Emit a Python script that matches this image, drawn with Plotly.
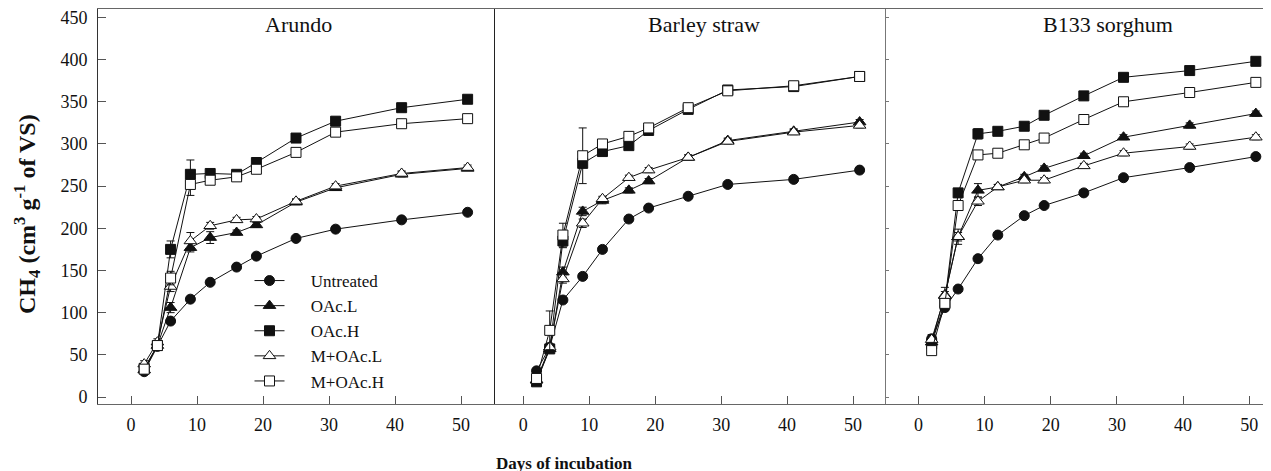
import plotly.graph_objects as go

# ---------------- data ----------------
days = [2, 4, 6, 9, 12, 16, 19, 25, 31, 41, 51]
series_names = ["Untreated", "OAc.L", "OAc.H", "M+OAc.L", "M+OAc.H"]
panel_titles = ["Arundo", "Barley straw", "B133 sorghum"]
x_ticks = [0, 10, 20, 30, 40, 50]
y_ticks = [0, 50, 100, 150, 200, 250, 300, 350, 400, 450]

arundo_untreated = [30, 60, 90, 116, 136, 154, 167, 188, 199, 210, 219]
arundo_oacl = [32, 61, 106, 177, 189, 195, 204, 231, 248, 264, 271]
arundo_oach = [34, 61, 175, 264, 265, 264, 278, 307, 327, 343, 353]
arundo_moacl = [39, 65, 131, 185, 203, 210, 211, 232, 250, 265, 272]
arundo_moach = [33, 61, 141, 252, 257, 261, 270, 290, 314, 324, 330]

barley_untreated = [31, 59, 115, 143, 175, 211, 224, 238, 252, 258, 269]
barley_oacl = [20, 57, 148, 220, 233, 245, 256, 284, 304, 315, 326]
barley_oach = [18, 57, 185, 277, 291, 298, 316, 341, 364, 368, 380]
barley_moacl = [20, 59, 140, 206, 235, 260, 269, 284, 303, 314, 322]
barley_moach = [22, 79, 192, 286, 300, 309, 319, 343, 363, 369, 380]

sorghum_untreated = [69, 106, 128, 164, 192, 215, 227, 242, 260, 272, 285]
sorghum_oacl = [65, 121, 190, 245, 249, 261, 271, 286, 308, 322, 336]
sorghum_oach = [63, 113, 242, 312, 315, 321, 334, 357, 379, 387, 398]
sorghum_moacl = [68, 120, 190, 232, 249, 257, 257, 274, 289, 297, 308]
sorghum_moach = [55, 111, 227, 287, 289, 299, 307, 329, 350, 361, 373]

# standard deviations (error bars)
arundo_err_untreated = [2, 2, 3, 2, 2, 2, 2, 2, 2, 2, 2]
arundo_err_oacl = [3, 3, 6, 5, 7, 3, 3, 3, 3, 3, 2]
arundo_err_oach = [3, 3, 10, 17, 4, 3, 3, 3, 3, 3, 3]
arundo_err_moacl = [4, 4, 6, 10, 4, 3, 3, 3, 3, 3, 3]
arundo_err_moach = [3, 3, 8, 13, 4, 3, 3, 3, 3, 3, 3]

barley_err_untreated = [3, 3, 3, 3, 3, 3, 3, 3, 3, 3, 3]
barley_err_oacl = [3, 3, 6, 5, 4, 3, 3, 3, 3, 3, 3]
barley_err_oach = [3, 3, 8, 5, 4, 3, 3, 3, 3, 3, 3]
barley_err_moacl = [3, 3, 5, 5, 3, 3, 3, 3, 3, 3, 3]
barley_err_moach = [3, 23, 14, 33, 4, 3, 3, 3, 3, 3, 3]

sorghum_err_untreated = [3, 3, 3, 3, 3, 3, 3, 3, 3, 3, 3]
sorghum_err_oacl = [9, 9, 9, 8, 3, 3, 3, 3, 3, 3, 3]
sorghum_err_oach = [5, 5, 5, 6, 3, 3, 3, 3, 3, 3, 3]
sorghum_err_moacl = [4, 5, 5, 5, 3, 3, 3, 3, 3, 3, 3]
sorghum_err_moach = [4, 5, 5, 5, 3, 3, 3, 3, 3, 3, 3]

panels = [
    ([arundo_untreated, arundo_oacl, arundo_oach, arundo_moacl, arundo_moach],
     [arundo_err_untreated, arundo_err_oacl, arundo_err_oach, arundo_err_moacl, arundo_err_moach]),
    ([barley_untreated, barley_oacl, barley_oach, barley_moacl, barley_moach],
     [barley_err_untreated, barley_err_oacl, barley_err_oach, barley_err_moacl, barley_err_moach]),
    ([sorghum_untreated, sorghum_oacl, sorghum_oach, sorghum_moacl, sorghum_moach],
     [sorghum_err_untreated, sorghum_err_oacl, sorghum_err_oach, sorghum_err_moacl, sorghum_err_moach]),
]

# ---------------- styling ----------------
W, H = 1271, 471
OFF = 8  # page body margin: screen px = figure px + OFF


def fx(px):
    return (px - OFF) / W


def fy(py):
    return 1 - (py - OFF) / H


FONT = "Liberation Serif"
INK = "#111111"
marker_styles = [
    dict(symbol="circle", size=10, color=INK),
    dict(symbol="triangle-up", size=11, color=INK),
    dict(symbol="square", size=10, color=INK),
    dict(symbol="triangle-up", size=11, color="white"),
    dict(symbol="square", size=10, color="white"),
]
legend_pad = "\u00a0" * 5

fig = go.Figure()
suffixes = ["", "2", "3"]
for p, (series, errs) in enumerate(panels):
    sfx = suffixes[p]
    for i, name in enumerate(series_names):
        ms = marker_styles[i]
        fig.add_trace(go.Scatter(
            x=days, y=series[i],
            mode="lines+markers",
            name=legend_pad + name,
            showlegend=(p == 0),
            xaxis="x" + sfx, yaxis="y" + sfx,
            line=dict(color=INK, width=1),
            marker=dict(symbol=ms["symbol"], size=ms["size"], color=ms["color"],
                        line=dict(color=INK, width=1)),
            error_y=dict(type="data", array=errs[i], visible=True,
                         color=INK, thickness=1, width=4),
        ))

x_domains = [[fx(98), fx(495)], [fx(495), fx(886)], [fx(886), 1.0]]
x_ranges = [[-5.0, 55.15], [-4.3, 55.0], [-4.9, 54.5]]
y_domain = [fy(404), fy(9)]
y_range = [-8.3, 460]
divider_colors = ["#333333", "#222222", "#777777"]

layout = dict(
    width=W, height=H,
    margin=dict(l=0, r=0, t=0, b=0),
    paper_bgcolor="white", plot_bgcolor="white",
    template="none",
    font=dict(family=FONT, size=18, color=INK),
    showlegend=True,
    legend=dict(x=fx(249.5), y=fy(263), xanchor="left", yanchor="top",
                bgcolor="rgba(0,0,0,0)", borderwidth=0,
                font=dict(family=FONT, size=17, color=INK),
                itemwidth=30, tracegroupgap=0),
)

for p, sfx in enumerate(suffixes):
    layout["xaxis" + sfx] = dict(
        domain=x_domains[p], range=x_ranges[p], anchor="y" + sfx,
        tickvals=x_ticks, ticks="inside", ticklen=8, tickcolor="#555555",
        ticklabelstandoff=4, ticklabeloverflow="allow",
        showline=True, linecolor="#666666", linewidth=1, mirror=True,
        showgrid=False, zeroline=False,
        tickfont=dict(family=FONT, size=18, color=INK),
    )
    ydict = dict(
        domain=y_domain, range=y_range, anchor="x" + sfx,
        showline=True, linecolor=divider_colors[p], linewidth=1,
        showgrid=False, zeroline=False, tickvals=y_ticks,
    )
    if p == 0:
        ydict.update(ticks="inside", ticklen=8, tickcolor="#555555",
                     ticklabelstandoff=6, ticklabeloverflow="allow",
                     tickfont=dict(family=FONT, size=18, color=INK))
    elif p == 1:
        ydict.update(ticks="", showticklabels=False)
    else:
        ydict.update(ticks="inside", ticklen=3, tickcolor="#777777",
                     showticklabels=False)
    layout["yaxis" + sfx] = ydict

title_x = [25.4, 27.4, 28.6]
annotations = []
for p, sfx in enumerate(suffixes):
    annotations.append(dict(
        text=panel_titles[p], x=title_x[p], y=442,
        xref="x" + sfx, yref="y" + sfx, showarrow=False,
        xanchor="center", yanchor="middle",
        font=dict(family=FONT, size=22, color=INK),
    ))

annotations.append(dict(
    text="<b>CH<sub>4</sub> (cm<sup>3</sup> g<sup>-1</sup> of VS)</b>",
    x=fx(27), y=fy(214), xref="paper", yref="paper",
    xanchor="center", yanchor="middle", textangle=-90, showarrow=False,
    font=dict(family=FONT, size=24, color=INK),
))
annotations.append(dict(
    text="<b>Days of incubation</b>",
    x=fx(564), y=fy(452), xref="paper", yref="paper",
    xanchor="center", yanchor="top", showarrow=False,
    font=dict(family=FONT, size=17, color=INK),
))
layout["annotations"] = annotations

fig.update_layout(**layout)
fig.write_html("out.html")
